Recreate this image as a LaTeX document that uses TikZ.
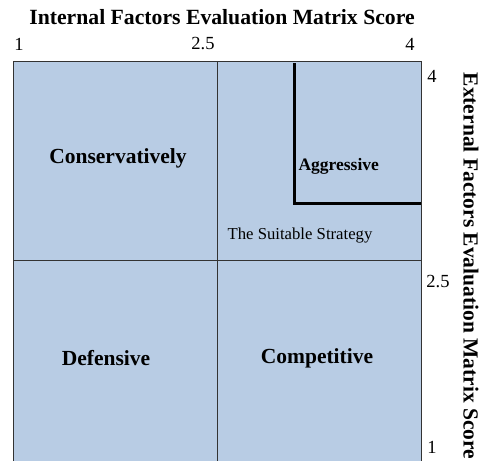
\documentclass[tikz,border=0pt]{standalone}
\usepackage{fontspec}
\setmainfont{Liberation Serif}
\usetikzlibrary{positioning, calc}

\begin{document}
\begin{tikzpicture}[x=1pt, y=-1pt,
    cell/.style={draw=black!80, fill=quad, line width=0.8pt},
    qlabel/.style={font=\fontsize{21.5}{24}\selectfont\bfseries},
    tick/.style={font=\fontsize{18.5}{21}\selectfont}]
                \definecolor{quad}{HTML}{B8CCE4}
                \useasboundingbox (0,0) rectangle (486,460);
                % Quadrants
                \draw[cell] (13,61) rectangle (217,260);
                \draw[cell] (217,61) rectangle (421,260);
                \draw[cell] (13,260) rectangle (217,462);
                \draw[cell] (217,260) rectangle (421,462);
                % Suitable region
                \coordinate (top) at (294,63);
                \coordinate (corner) at (294,203);
                \coordinate (edge) at (421,203);
                \draw[line width=3pt] (top) -- (corner) -- (edge);
                % Axis titles and ticks
                \node[font=\fontsize{21.7}{24}\selectfont\bfseries] (ife) at (222,17) {Internal Factors Evaluation Matrix Score};
                \node[tick] (x1) at (19,44) {1};
                \node[tick] (x25) at (203,44) {2.5};
                \node[tick] (x4) at (410,44) {4};
                \node[font=\fontsize{21.5}{24}\selectfont\bfseries, rotate=-90] (efe) at (471,266) {External Factors Evaluation Matrix Score};
                \node[tick] (y4) at (432,76) {4};
                \node[tick] (y25) at (438,282) {2.5};
                \node[tick] (y1) at (432,447) {1};
                % Quadrant labels
                \node[qlabel] (cons) at (118,158) {Conservatively};
                \node[font=\fontsize{17.5}{20}\selectfont\bfseries, anchor=west] (aggr) at (295,166) {Aggressive};
                \node[font=\fontsize{16.7}{19}\selectfont] (suit) at (300,236) {The Suitable Strategy};
                \node[qlabel] (def) at (106,358) {Defensive};
                \node[qlabel] (comp) at (317,358) {Competitive};
            \end{tikzpicture}
\end{document}
